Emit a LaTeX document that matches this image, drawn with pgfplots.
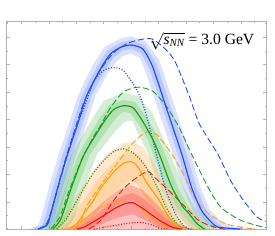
\documentclass[border=0pt]{standalone}
\usepackage{fontspec}
\setmainfont{Liberation Serif}
\usepackage{pgfplots}
\pgfplotsset{compat=1.18}
\definecolor{cB}{RGB}{30,75,255}
\definecolor{cG}{RGB}{20,160,20}
\definecolor{cO}{RGB}{255,160,0}
\definecolor{cR}{RGB}{240,25,25}
\definecolor{fB}{RGB}{40,80,255}
\definecolor{fG}{RGB}{40,170,40}
\definecolor{fO}{RGB}{255,150,30}
\definecolor{fR}{RGB}{255,60,50}
\begin{document}
\begin{tikzpicture}
\begin{axis}[
  scale only axis, width=265bp, height=212bp,
  xmin=1, xmax=266, ymin=0, ymax=212,
  axis line style={gray!60, line width=0.6pt},
  tick style={gray!60, line width=0.4pt},
  major tick length=3bp, minor tick length=1.5bp,
  tick align=inside,
  xtick={16,44,...,266}, minor xtick={2,30,...,266},
  ytick={0,28,...,212}, minor ytick={14,42,...,212},
  xticklabels={}, yticklabels={},
  clip=true,
]
% ---- bands ----
\addplot[draw=none, fill=fB, fill opacity=0.17] coordinates {(24,0)(33,4)(36,12)(44,42)(54,76)(64,106)(74,137)(89,168)(101,186)(118,195)(128,197)(143,192)(157,172)(172,127)(179,106)(189,76)(199,42)(209,19)(220,8)(230,3)(250,0)
(230,0)(207,2)(200,7)(191,19)(181,42)(171,76)(161,106)(154,127)(143,160)(137,175)(128,179)(120,177)(113,171)(105,160)(92,137)(82,106)(72,76)(62,42)(54,12)(51,4)(42,0)} -- cycle;
\addplot[draw=none, fill=fB, fill opacity=0.17] coordinates {(28,0)(37,4)(40,12)(48,42)(58,76)(68,106)(78,137)(93,166)(104,183)(118,191)(128,193)(142,188)(154,169)(168,127)(175,106)(185,76)(195,42)(205,19)(215,7)(223,2)(245,0)
(235,0)(212,2)(205,7)(196,19)(186,42)(176,76)(166,106)(159,127)(147,163)(138,180)(128,184)(119,182)(110,175)(101,161)(88,137)(78,106)(68,76)(58,42)(50,12)(46,4)(37,0)} -- cycle;
\addplot[draw=none, fill=fG, fill opacity=0.2] coordinates {(35,0)(39,4)(44,12)(54,42)(67,76)(88,112)(100,131)(120,139)(135,136)(150,118)(161,92)(168,76)(175,60)(182,42)(192,24)(199,16)(208,6)(218,0)
(190,0)(183,6)(175,16)(168,24)(158,42)(151,60)(146,76)(140,88)(134,100)(130,110)(125,111)(120,108)(112,100)(93,76)(80,42)(70,12)(65,4)(61,0)} -- cycle;
\addplot[draw=none, fill=fG, fill opacity=0.2] coordinates {(42,0)(46,4)(51,12)(61,42)(74,76)(95,112)(106,127)(120,132)(132,130)(145,113)(156,92)(163,76)(169,60)(176,42)(186,24)(193,16)(201,6)(210,0)
(197,0)(189,6)(181,16)(174,24)(164,42)(157,60)(151,76)(145,92)(136,107)(128,118)(120,120)(115,116)(106,105)(86,76)(73,42)(63,12)(58,4)(54,0)} -- cycle;
\addplot[draw=none, fill=fO, fill opacity=0.22] coordinates {(45,0)(55,8)(65,22)(75,38)(90,60)(105,78)(120,88)(130,89)(140,84)(150,70)(160,52)(168,38)(175,26)(182,15)(190,7)(198,2)(208,0)
(162,0)(158,2)(152,7)(145,16)(137,26)(127,32)(115,26)(100,12)(88,0)} -- cycle;
\addplot[draw=none, fill=fO, fill opacity=0.22] coordinates {(55,0)(64,7)(72,19)(83,34)(95,52)(110,68)(122,78)(130,79)(138,74)(146,60)(154,46)(162,33)(168,22)(174,12)(180,5)(186,1)(195,0)
(170,0)(163,3)(158,8)(153,16)(147,26)(140,36)(134,46)(127,50)(115,42)(100,26)(86,8)(76,0)} -- cycle;
\addplot[draw=none, fill=fR, fill opacity=0.3] coordinates {(60,0)(70,4)(85,14)(100,28)(115,40)(128,45)(140,40)(152,28)(163,16)(175,6)(188,1)(198,0)} -- cycle;
\addplot[draw=none, fill=fR, fill opacity=0.3] coordinates {(66,0)(76,3)(92,14)(107,27)(122,35)(130,37)(142,30)(154,19)(166,9)(178,2)(190,0)
(162,0)(155,3)(143,9)(130,15)(115,12)(100,6)(85,0)} -- cycle;
% ---- dotted ----
\addplot[cB, smooth, tension=0.4, line width=1.2pt, dash pattern=on 1.1bp off 1.7bp] coordinates {(33,0)(42,4)(45,12)(53,42)(63,76)(72,104)(80,124)(90,151)(100,162)(110,165)(120,162)(133,144)(140,128)(147,104)(153,80)(163,42)(173,16)(183,2)(190,0)};
\addplot[cG, smooth, tension=0.4, line width=1.2pt, dash pattern=on 1.1bp off 1.7bp] coordinates {(52,0)(58,6)(63,12)(72,28)(80,42)(90,58)(100,70)(110,79)(120,82)(130,78)(140,68)(150,52)(157,38)(163,24)(170,12)(177,3)(185,0)};
\addplot[cO, smooth, tension=0.4, line width=1.2pt, dash pattern=on 1.1bp off 1.7bp] coordinates {(60,0)(70,3)(85,14)(97,22)(107,27)(117,29)(130,26)(140,18)(147,12)(155,6)(163,2)(170,0)};
\addplot[cR, smooth, tension=0.4, line width=1.2pt, dash pattern=on 1.1bp off 1.7bp] coordinates {(90,0)(100,2)(113,4)(125,6)(137,7)(143,6)(150,4)(157,1)(165,0)};
% ---- dashed ----
\addplot[cB, smooth, tension=0.4, line width=0.9pt, dash pattern=on 6.5bp off 3bp] coordinates {(33,0)(42,6)(50,30)(60,68)(70,100)(80,130)(95,160)(110,180)(125,190)(140,194)(150,194)(163,184)(173,171)(187,137)(197,109)(207,92)(217,76)(230,49)(243,29)(257,12)(266,8)};
\addplot[cG, smooth, tension=0.4, line width=0.9pt, dash pattern=on 6.5bp off 3bp] coordinates {(46,0)(55,12)(65,40)(78,72)(90,95)(97,106)(107,124)(120,140)(135,145)(150,141)(163,127)(177,104)(190,76)(207,42)(220,22)(240,9)(263,2)(266,2)};
\addplot[cO, smooth, tension=0.4, line width=0.9pt, dash pattern=on 6.5bp off 3bp] coordinates {(70,0)(77,8)(83,24)(98,46)(113,66)(130,88)(140,97)(147,100)(155,96)(163,86)(172,73)(180,59)(193,32)(207,16)(223,6)(240,2)(255,0)};
\addplot[cR, smooth, tension=0.4, line width=0.9pt, dash pattern=on 6.5bp off 3bp] coordinates {(85,0)(97,9)(110,29)(122,43)(133,52)(145,59)(153,52)(167,39)(180,26)(197,9)(213,2)(225,0)};
% ---- solid ----
\addplot[cB, smooth, tension=0.4, line width=1.2pt] coordinates {(33,0)(42,4)(45,12)(53,42)(63,76)(73,106)(83,137)(97,164)(107,179)(118,186)(128,188)(140,184)(150,166)(163,127)(170,106)(180,76)(190,42)(200,19)(210,7)(217,2)(240,0)};
\addplot[cG, smooth, tension=0.4, line width=1.2pt] coordinates {(48,0)(52,4)(57,12)(67,42)(80,76)(100,109)(110,122)(120,126)(130,124)(140,110)(150,92)(157,76)(163,60)(170,42)(180,24)(187,16)(195,6)(203,0)};
\addplot[cO, smooth, tension=0.4, line width=1.2pt] coordinates {(65,0)(73,6)(80,16)(90,30)(97,42)(110,58)(120,67)(127,69)(132,67)(137,60)(143,49)(150,39)(157,29)(162,20)(167,12)(172,6)(177,2)(185,0)};
\addplot[cR, smooth, tension=0.4, line width=1.2pt] coordinates {(73,0)(80,2)(97,12)(113,22)(122,26)(130,27)(143,19)(157,9)(170,2)(180,0)};
\node[anchor=base east, inner sep=0pt, font=\fontsize{16}{16}\selectfont] at (axis cs:254,189) {$\sqrt{\mathit{s}_{\mathit{NN}}}$ = 3.0 GeV};
\end{axis}
\path ([shift={(-1bp,-7bp)}]current axis.south west) rectangle ([shift={(9bp,22bp)}]current axis.north east);
\end{tikzpicture}
\end{document}
